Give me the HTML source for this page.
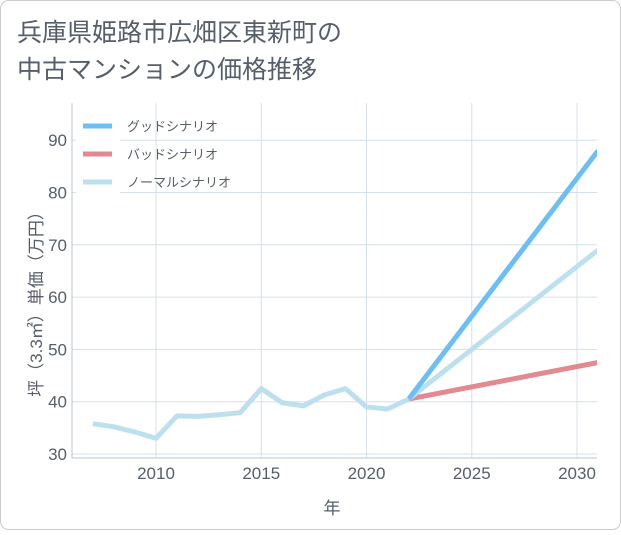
<!DOCTYPE html>
<html><head><meta charset="utf-8"><style>
body{margin:0;background:#fff;}
svg text{font-family:"Liberation Sans","Noto Sans CJK JP",sans-serif;}
</style></head><body>
<svg width="621" height="530" xmlns="http://www.w3.org/2000/svg">
<rect x="0.5" y="0.5" width="620" height="529" rx="8" fill="#fff" stroke="#ccc"/>
<text x="17" y="41" font-size="25" fill="#555e6a">兵庫県姫路市広畑区東新町の</text>
<text x="17" y="78" font-size="25" fill="#555e6a">中古マンションの価格推移</text>
<g id="grid"></g>
<g id="series"></g>
<g id="axes"></g>
<text x="332" y="514" font-size="17" fill="#555e6a" text-anchor="middle">年</text>
<text transform="translate(42,300) rotate(-90)" font-size="17" fill="#555e6a" text-anchor="middle">坪（3.3㎡）単価（万円）</text>
<g>
<rect x="76" y="112" width="44" height="82" fill="#fff"/>
<line x1="83" y1="126" x2="112" y2="126" stroke="#6cbff5" stroke-width="5"/>
<text x="127" y="131" font-size="13" fill="#555e6a">グッドシナリオ</text>
<line x1="83" y1="154" x2="112" y2="154" stroke="#e28a90" stroke-width="5"/>
<text x="127" y="159" font-size="13" fill="#555e6a">バッドシナリオ</text>
<line x1="83" y1="182" x2="112" y2="182" stroke="#bde0ee" stroke-width="5"/>
<text x="127" y="187" font-size="13" fill="#555e6a">ノーマルシナリオ</text>
</g>
</svg>
<script>
const histYears=[2007,2008,2009,2010,2011,2012,2013,2014,2015,2016,2017,2018,2019,2020,2021,2022];
const histValues=[35.8,35.2,34.2,33,37.3,37.2,37.5,37.9,42.5,39.8,39.2,41.3,42.5,39,38.6,40.5];
const projYears=[2022,2031];
const goodValues=[40.5,88];
const badValues=[40.5,47.5];
const normalValues=[40.5,69];
const xTicks=[2010,2015,2020,2025,2030];
const yTicks=[30,40,50,60,70,80,90];
const L=72,R=597,T=103,B=458;
const xs=y=>156+(y-2010)*21.05;
const ys=v=>454-(v-30)*5.23;
const NS='http://www.w3.org/2000/svg';
function mk(p,tag,a){const e=document.createElementNS(NS,tag);for(const k in a)e.setAttribute(k,a[k]);p.appendChild(e);return e;}
const grid=document.getElementById('grid'),axes=document.getElementById('axes'),ser=document.getElementById('series');
xTicks.forEach(t=>{const l=mk(grid,'line',{x1:xs(t),x2:xs(t),y1:T,y2:B,stroke:'#d5e0ea'});


const tx=mk(axes,'text',{x:xs(t),y:479,'font-size':17,fill:'#555e6a','text-anchor':'middle'});tx.textContent=t;

});
yTicks.forEach(t=>{const l=mk(grid,'line',{x1:L,x2:R,y1:ys(t),y2:ys(t),stroke:'#d5e0ea'});


const tx=mk(axes,'text',{x:67,y:ys(t)+6,'font-size':17,fill:'#555e6a','text-anchor':'end'});tx.textContent=t;

});
const fr=mk(axes,'path',{d:`M${L},${T}V${B}H${R}`,fill:'none',stroke:'#b8c4ce'});


function line(xa,va,col,name){const d=xa.map((x,i)=>(i?'L':'M')+xs(x)+','+ys(va[i])).join('');
const p=mk(ser,'path',{d,fill:'none',stroke:col,'stroke-width':5,'stroke-linejoin':'round'});

}
const cp=mk(document.querySelector('svg'),'clipPath',{id:'c'});mk(cp,'rect',{x:L,y:T,width:R-L,height:B-T});
ser.setAttribute('clip-path','url(#c)');
line(projYears,badValues,'#e28a90','bad-scenario-line');
line(projYears,normalValues,'#bde0ee','normal-scenario-line');
line(projYears,goodValues,'#6cbff5','good-scenario-line');
line(histYears,histValues,'#bde0ee','historical-line');
</script>
</body></html>
